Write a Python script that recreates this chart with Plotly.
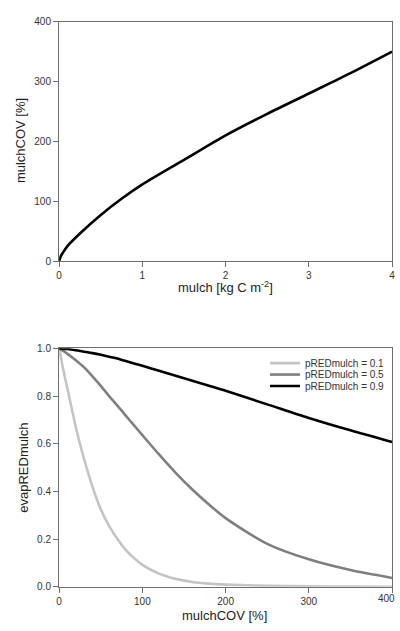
import plotly.graph_objects as go

# ---- data ----
mulch = [0, 0.02, 0.05, 0.1, 0.25, 0.5, 0.75, 1.0, 1.5, 2.0, 2.5, 3.0, 3.5, 4.0]
mulch_cov = [0, 8, 15, 25, 46, 77, 104, 128, 169, 210, 246, 280, 314, 350]

cov_fine = [0, 2.5, 5, 7.5, 10, 15, 20, 25, 30, 40, 50, 60, 70, 80, 90, 100, 120, 140, 160, 180, 200,
            250, 300, 350, 400]
evap_p01 = [1.0, 0.955, 0.91, 0.87, 0.83, 0.75, 0.67, 0.60, 0.535, 0.42, 0.325, 0.255, 0.20, 0.155,
            0.12, 0.092, 0.055, 0.033, 0.020, 0.013, 0.009, 0.004, 0.0015, 0.0005, 0.0]

cov = [0, 10, 20, 30, 40, 50, 60, 70, 80, 90, 100, 120, 140, 160, 180, 200, 250, 300, 350, 400]
evap_p05 = [1.0, 0.977, 0.95, 0.92, 0.883, 0.843, 0.80, 0.76, 0.718, 0.677, 0.636, 0.555, 0.478,
            0.408, 0.345, 0.288, 0.18, 0.115, 0.07, 0.037]
evap_p09 = [1.0, 0.997, 0.992, 0.986, 0.98, 0.973, 0.965, 0.957, 0.947, 0.937, 0.927, 0.906,
            0.885, 0.864, 0.843, 0.822, 0.765, 0.708, 0.656, 0.607]

# tick labels
top_x_ticks = [0, 1, 2, 3, 4]
top_y_ticks = [0, 100, 200, 300, 400]
bot_x_ticks = [0, 100, 200, 300, 400]
bot_y_ticks = [0.0, 0.2, 0.4, 0.6, 0.8, 1.0]

series = [
    ("pREDmulch = 0.1", cov_fine, evap_p01, "#c4c4c4", "legend"),
    ("pREDmulch = 0.5", cov, evap_p05, "#7f7f7f", "legend2"),
    ("pREDmulch = 0.9", cov, evap_p09, "#000000", "legend3"),
]

W, H = 400, 631
FONT = "Liberation Sans, Arial, sans-serif"
TICKFONT = dict(family=FONT, size=10, color="#333333")

fig = go.Figure()
fig.add_trace(go.Scatter(x=mulch, y=mulch_cov, mode="lines",
                         line=dict(color="black", width=2.6, shape="spline", smoothing=0.8),
                         xaxis="x", yaxis="y", showlegend=False))
for name, xs, ys, col, lg in series:
    fig.add_trace(go.Scatter(x=xs, y=ys, mode="lines", name=name,
                             line=dict(color=col, width=2.6, shape="spline", smoothing=0.8),
                             xaxis="x2", yaxis="y2", legend=lg))

x0, x1 = 57 / W, 395 / W
top_dom = [(H - 260) / H, (H - 16) / H]
bot_dom = [(H - 592) / H, (H - 349) / H]

axis_common = dict(showline=True, linecolor="#6e6e6e", linewidth=1.3, mirror=True,
                   ticks="outside", ticklen=5, tickcolor="#6e6e6e", tickwidth=1,
                   showgrid=False, zeroline=False, tickfont=TICKFONT)

legend_common = dict(bgcolor="rgba(0,0,0,0)", borderwidth=0, xanchor="left", yanchor="middle",
                     font=dict(family=FONT, size=10, color="#333333"), itemwidth=30)
leg_rows = [364, 375.7, 387.3]

# last bottom x tick label sits on the window edge: drawn right-aligned so it stays inside the page
bx_text = [str(v) for v in bot_x_ticks[:-1]] + [""]

fig.update_layout(
    width=W, height=H, margin=dict(l=0, r=0, t=0, b=0),
    paper_bgcolor="white", plot_bgcolor="white",
    xaxis=dict(domain=[x0, x1], range=[0, 4], tickvals=top_x_ticks, anchor="y", **axis_common),
    yaxis=dict(domain=top_dom, range=[0, 400], tickvals=top_y_ticks, anchor="x", **axis_common),
    xaxis2=dict(domain=[x0, x1], range=[0, 400], tickvals=bot_x_ticks, ticktext=bx_text,
                anchor="y2", **axis_common),
    yaxis2=dict(domain=bot_dom, range=[0, 1], tickvals=bot_y_ticks, tickformat=".1f",
                anchor="x2", **axis_common),
    legend=dict(x=266 / W, y=(H - leg_rows[0]) / H, **legend_common),
    legend2=dict(x=266 / W, y=(H - leg_rows[1]) / H, **legend_common),
    legend3=dict(x=266 / W, y=(H - leg_rows[2]) / H, **legend_common),
    annotations=[
        dict(text=str(bot_x_ticks[-1]), x=398 / W, y=(H - 598) / H, xref="paper", yref="paper",
             showarrow=False, xanchor="right", yanchor="top", borderpad=0, borderwidth=0,
             font=TICKFONT),
        dict(text="mulch [kg C m<sup>-2</sup>]", x=226 / W, y=(H - 278) / H, xref="paper", yref="paper",
             showarrow=False, xanchor="center", yanchor="top", borderpad=0, borderwidth=0,
             font=dict(family=FONT, size=13, color="#222222")),
        dict(text="mulchCOV [%]", x=18 / W, y=(H - 137) / H, xref="paper", yref="paper",
             showarrow=False, xanchor="center", yanchor="middle", textangle=-90,
             font=dict(family=FONT, size=13, color="#222222")),
        dict(text="mulchCOV [%]", x=225 / W, y=2 / H, xref="paper", yref="paper",
             showarrow=False, xanchor="center", yanchor="bottom", borderpad=0, borderwidth=0,
             font=dict(family=FONT, size=13, color="#222222")),
        dict(text="evapREDmulch", x=20 / W, y=(H - 471) / H, xref="paper", yref="paper",
             showarrow=False, xanchor="center", yanchor="middle", textangle=-90,
             font=dict(family=FONT, size=13, color="#222222")),
    ],
)

fig.write_html("out.html")
